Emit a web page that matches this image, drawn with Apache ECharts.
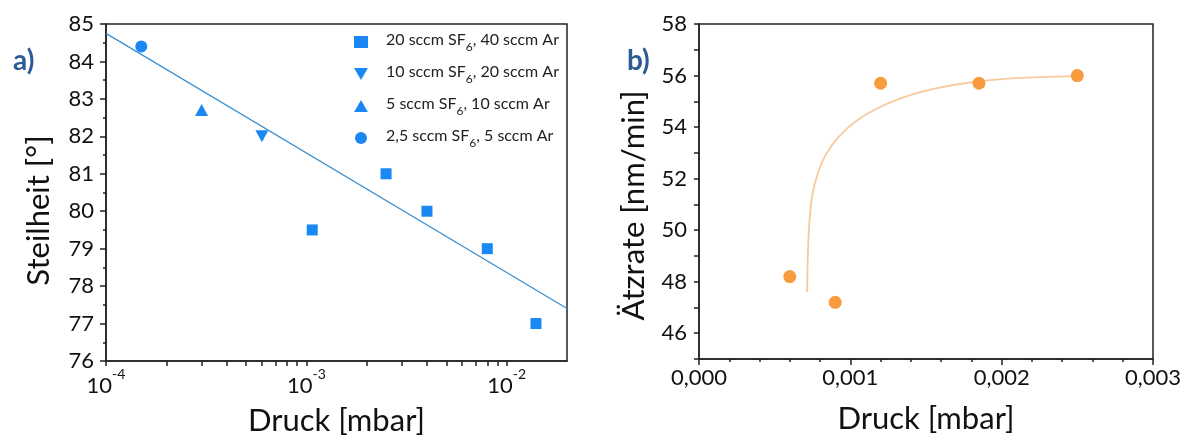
<!DOCTYPE html>
<html><head><meta charset="utf-8">
<script src="https://cdn.jsdelivr.net/npm/echarts@6/dist/echarts.min.js"></script>
<style>html,body{margin:0;padding:0;background:#fff}#c{width:1190px;height:441px}</style>
</head><body><div id="c"></div>
<script>
// ---------- data: panel a ----------
const seriesNamesA = ['20 sccm SF6, 40 sccm Ar', '10 sccm SF6, 20 sccm Ar', '5 sccm SF6, 10 sccm Ar', '2,5 sccm SF6, 5 sccm Ar'];
const pressA20 = [1.07e-3, 2.5e-3, 4.0e-3, 8.0e-3, 1.4e-2];
const steilA20 = [79.5, 81.0, 80.0, 79.0, 77.0];
const pressA10 = [6.0e-4];
const steilA10 = [82.0];
const pressA5 = [3.0e-4];
const steilA5 = [82.7];
const pressA25 = [1.5e-4];
const steilA25 = [84.4];
const fitPressA = [1e-4, 2e-2];
const fitSteilA = [84.75, 77.4];
const xTicksA = [1e-4, 2e-4, 3e-4, 4e-4, 5e-4, 6e-4, 7e-4, 8e-4, 9e-4, 1e-3, 2e-3, 3e-3, 4e-3, 5e-3, 6e-3, 7e-3, 8e-3, 9e-3, 1e-2];
// ---------- data: panel b ----------
const pressB = [0.0006, 0.0009, 0.0012, 0.00185, 0.0025];
const rateB = [48.2, 47.2, 55.7, 55.7, 56.0];
const fitPressB = [0.000715, 0.000717, 0.000722, 0.000732, 0.00075, 0.000785, 0.00084, 0.00092, 0.00103, 0.00117, 0.00135, 0.00155, 0.0018, 0.0021, 0.0025];
const fitRateB = [47.6, 48.5, 49.5, 50.5, 51.4, 52.2, 52.95, 53.6, 54.2, 54.7, 55.15, 55.48, 55.74, 55.9, 55.98];
const yLabelsB = [46, 48, 50, 52, 54, 56, 58];
const yTicksB = [45, 46, 47, 48, 49, 50, 51, 52, 53, 54, 55, 56, 57, 58];

const zip = (a, b) => a.map((v, i) => [v, b[i]]);
const FONT = 'Lato';
const AX = '#222';
const TXT = '#111';
const BLUE = '#1A88F2';
const ORANGE = '#F89A3E';

const lineOn = () => ({ show: true, lineStyle: { color: AX, width: 1.5 } });
const tick = (len, custom) => {
  const t = { show: true, length: len, lineStyle: { color: AX, width: 1.5 } };
  if (custom) t.customValues = custom;
  return t;
};
const minor = (len, n) => ({ show: true, splitNumber: n, length: len, lineStyle: { color: AX, width: 1.5 } });

function legendFmt(name) {
  const p = name.split('SF6');
  return '{t0|' + p[0] + 'SF}{s|6}{t|' + p[1] + '}';
}
function logLabel(v) {
  const e = Math.round(Math.log10(v));
  if (Math.abs(v - Math.pow(10, e)) / v > 1e-6) return '';
  return '{b|10}{e|' + e + '}';
}
const nameStyle = extra => Object.assign({ fontFamily: FONT, fontSize: 31, color: TXT }, extra || {});

const option = {
  backgroundColor: '#fff',
  animation: false,
  textStyle: { fontFamily: FONT },
  title: [
    { text: 'a)', left: 8, top: 42, textStyle: { fontFamily: FONT, fontSize: 28, fontWeight: 'bold', color: '#2D5B94' } },
    { text: 'b)', left: 622, top: 42, textStyle: { fontFamily: FONT, fontSize: 28, fontWeight: 'bold', color: '#2D5B94' } }
  ],
  legend: {
    data: seriesNamesA,
    orient: 'vertical',
    left: 349, top: 27,
    itemWidth: 14, itemHeight: 12, itemGap: 11,
    formatter: legendFmt,
    textStyle: {
      fontFamily: FONT, color: '#222',
      rich: {
        t0: { fontFamily: FONT, fontSize: 16, lineHeight: 20, color: '#222', verticalAlign: 'top', padding: [0, 0, 0, 13] },
        t: { fontFamily: FONT, fontSize: 16, lineHeight: 20, color: '#222', verticalAlign: 'top' },
        s: { fontFamily: FONT, fontSize: 12, lineHeight: 12, padding: [9, 0, 0, 0], color: '#222', verticalAlign: 'top' }
      }
    }
  },
  grid: [
    { left: 106, top: 24, width: 461, height: 338, show: true, borderColor: AX, borderWidth: 1.5, backgroundColor: 'transparent' },
    { left: 699, top: 24, width: 454, height: 335, show: true, borderColor: AX, borderWidth: 1.5, backgroundColor: 'transparent' }
  ],
  xAxis: [
    { gridIndex: 0, type: 'log', logBase: 10, min: 1e-4, max: 2e-2,
      axisLine: lineOn(), splitLine: { show: false }, axisTick: tick(5, xTicksA),
      axisLabel: { margin: 10, formatter: logLabel, showMaxLabel: false, color: TXT,
        rich: { b: { fontFamily: FONT, fontSize: 22, lineHeight: 26, verticalAlign: 'bottom', color: TXT },
                e: { fontFamily: FONT, fontSize: 14, lineHeight: 16, padding: [0, 0, 16, 0], verticalAlign: 'bottom', color: TXT } } },
      name: 'Druck [mbar]', nameLocation: 'middle', nameGap: 44, nameTextStyle: nameStyle() },
    { gridIndex: 1, type: 'value', min: 0, max: 0.003, interval: 0.001,
      axisLine: lineOn(), splitLine: { show: false }, axisTick: tick(6), minorTick: minor(3, 5),
      axisLabel: { margin: 8, fontFamily: FONT, fontSize: 22, color: TXT, formatter: v => v.toFixed(3).replace('.', ',') },
      name: 'Druck [mbar]', nameLocation: 'middle', nameGap: 44, nameTextStyle: nameStyle() }
  ],
  yAxis: [
    { gridIndex: 0, type: 'value', min: 76, max: 85, interval: 1,
      axisLine: lineOn(), splitLine: { show: false }, axisTick: tick(6), minorTick: minor(3, 2),
      axisLabel: { margin: 12, fontFamily: FONT, fontSize: 22, color: TXT },
      name: 'Steilheit [°]', nameLocation: 'middle', nameGap: 52, nameTextStyle: nameStyle({ padding: [0, 36, 0, 0] }) },
    { gridIndex: 1, type: 'value', min: 45, max: 58,
      axisLine: lineOn(), splitLine: { show: false }, axisTick: tick(5, yTicksB),
      axisLabel: { margin: 12, fontFamily: FONT, fontSize: 22, color: TXT, customValues: yLabelsB },
      name: 'Ätzrate [nm/min]', nameLocation: 'middle', nameGap: 50, nameTextStyle: nameStyle({ padding: [0, 28, 0, 0] }) }
  ],
  series: [
    { type: 'line', name: 'fitA', xAxisIndex: 0, yAxisIndex: 0, data: zip(fitPressA, fitSteilA),
      showSymbol: false, symbol: 'none', lineStyle: { color: '#3A8FD0', width: 1.2 }, z: 1 },
    { type: 'scatter', name: seriesNamesA[0], xAxisIndex: 0, yAxisIndex: 0, data: zip(pressA20, steilA20),
      symbol: 'rect', symbolSize: 11, itemStyle: { color: BLUE, opacity: 1 }, z: 3 },
    { type: 'scatter', name: seriesNamesA[1], xAxisIndex: 0, yAxisIndex: 0, data: zip(pressA10, steilA10),
      symbol: 'path://M0,0L10,0L5,8.66Z', symbolSize: [13, 12], itemStyle: { color: BLUE, opacity: 1 }, z: 3 },
    { type: 'scatter', name: seriesNamesA[2], xAxisIndex: 0, yAxisIndex: 0, data: zip(pressA5, steilA5),
      symbol: 'path://M5,0L10,8.66L0,8.66Z', symbolSize: [13, 12], itemStyle: { color: BLUE, opacity: 1 }, z: 3 },
    { type: 'scatter', name: seriesNamesA[3], xAxisIndex: 0, yAxisIndex: 0, data: zip(pressA25, steilA25),
      symbol: 'circle', symbolSize: 12, itemStyle: { color: BLUE, opacity: 1 }, z: 3 },
    { type: 'line', name: 'fitB', xAxisIndex: 1, yAxisIndex: 1, data: zip(fitPressB, fitRateB),
      showSymbol: false, symbol: 'none', smooth: 0.3,
      lineStyle: { color: '#F8C99C', width: 1.8 }, z: 1 },
    { type: 'scatter', name: 'pointsB', xAxisIndex: 1, yAxisIndex: 1, data: zip(pressB, rateB),
      symbol: 'circle', symbolSize: 13, itemStyle: { color: ORANGE, opacity: 1 }, z: 3 }
  ]
};
const chart = echarts.init(document.getElementById('c'), null, { renderer: 'canvas' });
chart.setOption(option);
</script></body></html>
